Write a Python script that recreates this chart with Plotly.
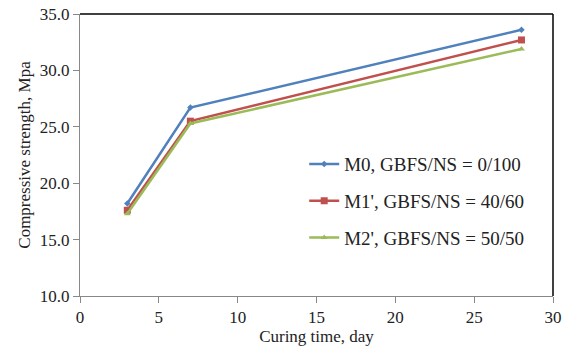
import plotly.graph_objects as go

days = [3, 7, 28]
m0 = [18.2, 26.7, 33.6]
m1 = [17.6, 25.5, 32.7]
m2 = [17.3, 25.3, 31.9]
names = ["M0, GBFS/NS = 0/100", "M1', GBFS/NS = 40/60", "M2', GBFS/NS = 50/50"]
colors = ["#4F81BD", "#C0504D", "#9BBB59"]
symbols = ["diamond", "square", "triangle-up"]
msizes = [5, 7, 6]

fig = go.Figure()
for i, ys in enumerate([m0, m1, m2]):
    fig.add_trace(go.Scatter(
        x=days, y=ys, name=names[i], mode="lines+markers",
        line=dict(color=colors[i], width=2.5),
        marker=dict(symbol=symbols[i], size=msizes[i], color=colors[i]),
        legendgroup=f"g{i}",
    ))

font = "Liberation Serif, Times New Roman, serif"
fig.update_layout(
    width=563, height=350,
    margin=dict(l=80, r=10, t=14, b=54),
    paper_bgcolor="white", plot_bgcolor="white",
    font=dict(family=font, size=17, color="#222"),
    showlegend=True,
    legend=dict(x=0.474, y=0.535, xanchor="left", yanchor="top",
                bgcolor="rgba(0,0,0,0)", tracegroupgap=9,
                font=dict(size=19, family=font)),
    xaxis=dict(range=[0, 30], dtick=5, showgrid=False, zeroline=False,
               showline=True, linecolor="#888", linewidth=1,
               ticks="outside", tickcolor="#888", ticklen=6,
               automargin=False,
               title=dict(text="Curing time, day", standoff=0, font=dict(size=17)),
               tickfont=dict(size=17)),
    yaxis=dict(range=[10, 35], dtick=5, tickformat=".1f", showgrid=False, zeroline=False,
               showline=True, linecolor="#888", linewidth=1,
               ticks="outside", tickcolor="#888", ticklen=6,
               automargin=False,
               title=dict(text="Compressive strength, Mpa", standoff=4, font=dict(size=17)),
               tickfont=dict(size=17)),
)
# top and right black border of plot area
fig.add_shape(type="line", xref="paper", yref="paper", x0=0, x1=1, y0=1, y1=1,
              line=dict(color="black", width=1.5))
fig.add_shape(type="line", xref="paper", yref="paper", x0=1, x1=1, y0=0, y1=1,
              line=dict(color="black", width=1.5))
fig.write_html("out.html")
